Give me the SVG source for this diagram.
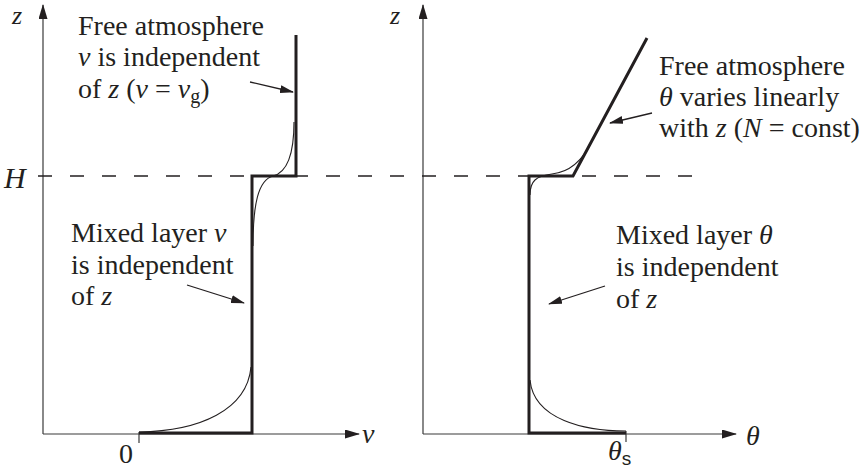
<svg xmlns="http://www.w3.org/2000/svg" width="863" height="468" viewBox="0 0 863 468">
<style>
.axis{stroke:#3a3a3a;stroke-width:1.2;fill:none}
.thick{stroke:#231f20;stroke-width:3;fill:none;stroke-linejoin:miter}
.thin{stroke:#231f20;stroke-width:1.1;fill:none}
.dash{stroke:#231f20;stroke-width:1.3;fill:none;stroke-dasharray:14 18}
.ptr{stroke:#231f20;stroke-width:1.3;fill:none}
</style>
<defs>
<marker id="ah" viewBox="0 0 14 8" refX="13" refY="4" markerWidth="14" markerHeight="8" markerUnits="userSpaceOnUse" orient="auto">
<path d="M0,0 L14,4 L0,8 Z" fill="#231f20"/>
</marker>
<marker id="ax" viewBox="0 0 15 9" refX="14" refY="4.5" markerWidth="15" markerHeight="9" markerUnits="userSpaceOnUse" orient="auto">
<path d="M0,0 L15,4.5 L0,9 Z" fill="#231f20"/>
</marker>
</defs>
<g font-family="Liberation Serif, Times New Roman, DejaVu Serif, serif" font-size="28" fill="#231f20">

<g id="left-axes">
<line class="axis" x1="43" y1="434" x2="43" y2="5" marker-end="url(#ax)"/>
<line class="axis" x1="43" y1="434" x2="359" y2="434" marker-end="url(#ax)"/>
<line class="axis" x1="139" y1="432" x2="139" y2="443"/>
<text font-style="italic" font-size="26" x="12" y="24">z</text>
<text font-style="italic" x="362" y="443">v</text>
<text x="119" y="463">0</text>
<text font-style="italic" font-size="30" x="4" y="188">H</text>
</g>

<g id="right-axes">
<line class="axis" x1="423" y1="434" x2="423" y2="5" marker-end="url(#ax)"/>
<line class="axis" x1="423" y1="434" x2="736" y2="434" marker-end="url(#ax)"/>
<line class="axis" x1="626" y1="431" x2="626" y2="442"/>
<text font-style="italic" font-size="26" x="390" y="24">z</text>
<text font-style="italic" x="746" y="445">θ</text>
<text font-style="italic" x="608" y="460">θ<tspan font-style="normal" font-family="Liberation Sans, Arial, sans-serif" font-size="19" dy="5">s</tspan></text>
</g>

<g id="H-line">
<line class="dash" x1="38" y1="176" x2="697" y2="176"/>
</g>

<g id="v-profile">
<path class="thick" d="M139,433 L252,433 L252,176 L296,176 L296,35"/>
<path class="thin" d="M139,432 C200,431 247,410 251,367"/>
<path class="thin" d="M253,246 C253,205 258,180 273,176 C289,172 294,150 294,122"/>
</g>

<g id="theta-profile">
<path class="thick" d="M626,433 L529,433 L529,176 L573,176 L647,38"/>
<path class="thin" d="M530,380 C534,420 585,431 626,431"/>
<path class="thin" d="M530,195 C530,181 536,176 552,174 C570,172 583,160 592,141"/>
</g>

<g id="label-free-v">
<text x="78" y="35">Free atmosphere</text>
<text x="78" y="66"><tspan font-style="italic">v</tspan> is independent</text>
<text x="78" y="98">of <tspan font-style="italic">z</tspan> (<tspan font-style="italic">v</tspan> = <tspan font-style="italic">v</tspan><tspan font-size="20" dy="5">g</tspan><tspan dy="-5">)</tspan></text>
</g>

<g id="label-mixed-v">
<text x="71" y="242">Mixed layer <tspan font-style="italic">v</tspan></text>
<text x="71" y="274">is independent</text>
<text x="71" y="305">of <tspan font-style="italic">z</tspan></text>
</g>

<g id="label-free-theta">
<text x="659" y="75">Free atmosphere</text>
<text x="659" y="106"><tspan font-style="italic">θ</tspan> varies linearly</text>
<text x="659" y="137">with <tspan font-style="italic">z</tspan> (<tspan font-style="italic">N</tspan> = const)</text>
</g>

<g id="label-mixed-theta">
<text x="616" y="244">Mixed layer <tspan font-style="italic">θ</tspan></text>
<text x="616" y="276">is independent</text>
<text x="616" y="308">of <tspan font-style="italic">z</tspan></text>
</g>

<g id="connectors">
<line class="ptr" x1="250" y1="82" x2="293" y2="92" marker-end="url(#ah)"/>
<line class="ptr" x1="187" y1="285" x2="244" y2="303" marker-end="url(#ah)"/>
<line class="ptr" x1="652" y1="113" x2="610" y2="123" marker-end="url(#ah)"/>
<line class="ptr" x1="605" y1="286" x2="549" y2="304" marker-end="url(#ah)"/>
</g>
</g>
</svg>
